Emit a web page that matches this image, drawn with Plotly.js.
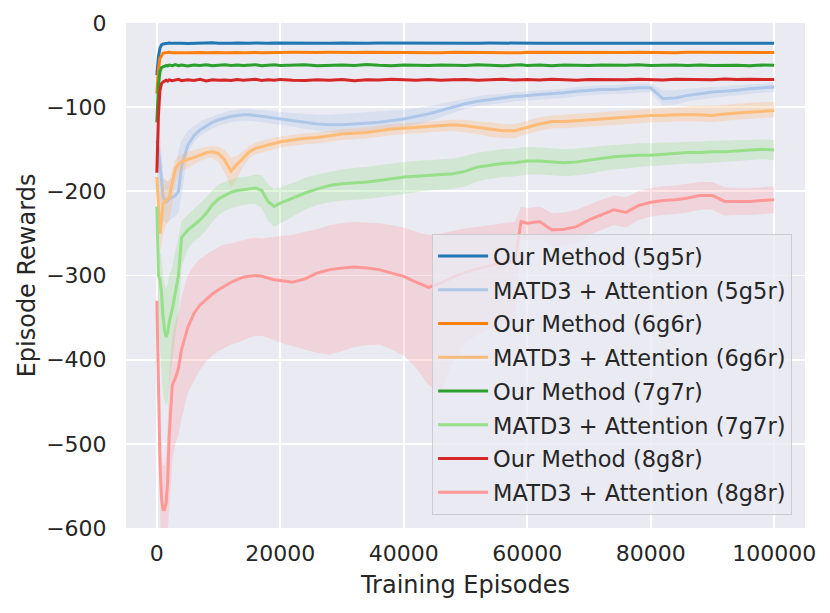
<!DOCTYPE html>
<html>
<head>
<meta charset="utf-8">
<script src="https://cdn.plot.ly/plotly-3.0.1.min.js"></script>
<style>
  html, body { margin: 0; padding: 0; background: #fff; }
  #chart { width: 830px; height: 613px; }
</style>
</head>
<body>
<div id="chart"></div>
<script>
var episodes = [0, 250, 500, 750, 1000, 1250, 1500, 1750, 2000, 2500,
  3000, 3500, 4000, 5000, 6000, 7000, 8000, 9000, 10000, 11000,
  12000, 13000, 14000, 15000, 16000, 17000, 18000, 19000, 20000, 22000,
  24000, 26000, 28000, 30000, 32000, 34000, 36000, 38000, 40000, 42000,
  44000, 46000, 48000, 50000, 52000, 54000, 56000, 58000, 59000, 60000,
  62000, 64000, 66000, 68000, 70000, 72000, 74000, 76000, 78000, 80000,
  82000, 84000, 86000, 88000, 90000, 92000, 94000, 96000, 98000, 100000];

// Our Method
var ours5 = [-62, -40, -30, -26, -25, -24.5, -24, -24.3, -23.8, -24.2,
  -24, -23.7, -24.1, -24.3, -23.9, -24.2, -24, -23.6, -24.1, -24.3,
  -24, -23.8, -24.2, -24, -23.7, -24.1, -24.2, -23.9, -24, -24.3,
  -23.9, -24.1, -24, -23.8, -24.2, -24.1, -23.9, -24, -24.2, -23.8,
  -24, -24.1, -23.9, -24.2, -24, -23.8, -24.1, -24, -24.2, -23.9,
  -24.1, -24, -23.8, -24.2, -24, -24.1, -23.9, -24, -24.2, -23.8,
  -24, -24.1, -23.9, -24, -24.2, -23.9, -24, -24.1, -23.8, -24];
var ours6 = [-84, -55, -42, -38, -36, -35.5, -35, -35.3, -34.8, -35.2,
  -35, -34.7, -35.2, -35.4, -34.9, -35.1, -35.3, -34.8, -35, -35.2,
  -34.9, -35.1, -35.3, -34.8, -35, -35.2, -34.9, -35.1, -35, -34.8,
  -35.2, -35, -34.9, -35.3, -35.1, -34.8, -35, -35.2, -34.9, -35.1,
  -35, -35.3, -34.8, -35, -35.2, -34.9, -35.1, -35, -35.3, -34.9,
  -35, -35.2, -34.8, -35.1, -35, -34.9, -35.2, -35, -34.8, -35.1,
  -35, -35.2, -34.9, -35, -35.1, -34.8, -35, -35.2, -34.9, -35];
var ours7 = [-118, -75, -58, -53, -52, -51, -50.5, -51, -50, -50.8,
  -49.5, -50.6, -50, -51, -49.8, -50.5, -49.6, -50.9, -50.2, -49.7,
  -50.5, -49.8, -50.6, -50, -49.5, -50.8, -50.1, -49.7, -50.4, -50,
  -49.6, -50.7, -50, -49.8, -50.5, -49.4, -50.3, -50.8, -49.9, -50.2,
  -50.6, -49.8, -50.1, -50.5, -49.7, -50.3, -50.9, -50, -49.6, -50.4,
  -50, -50.7, -49.8, -50.2, -50.6, -49.9, -50.3, -50.1, -49.7, -50.5,
  -50.2, -49.8, -50.6, -50, -50.4, -49.9, -50.2, -50.7, -50, -50.3];
var ours8 = [-178, -110, -80, -72, -70, -69, -68, -69, -67.5, -68.5,
  -68, -67, -68.5, -67.5, -68.2, -67, -68.8, -67.4, -68, -67.6,
  -68.4, -67.2, -68, -67.8, -66.9, -68.3, -67.5, -68.1, -67, -67.9,
  -68.2, -67.4, -67.9, -67, -68.5, -67.3, -67.8, -66.8, -67.6, -68.1,
  -67.2, -67.9, -67.4, -67, -68, -67.5, -66.9, -67.8, -67.3, -67.1,
  -67.6, -66.8, -67.4, -67.9, -67, -67.3, -66.7, -67.5, -66.9, -67.2,
  -67.6, -66.8, -67.3, -67, -67.5, -66.6, -67.2, -66.9, -67.4, -67.1];

// MATD3 + Attention, mean and shaded band
var matd5 = [-140, -150, -168, -192, -206, -211, -213, -211, -209, -207,
  -205, -200, -170, -145, -134, -127, -122, -118, -115, -113,
  -111, -110, -109, -109, -110, -111, -112, -113, -114, -116,
  -118, -120, -121, -121, -120, -119, -118, -116, -114, -111,
  -108, -104, -100, -96, -93, -91, -89, -87, -87, -86,
  -85, -84, -83, -81, -80, -79, -79, -78, -77, -77,
  -90, -89, -86, -84, -82, -81, -80, -78, -77, -76];
var matd5Hi = [-100, -110, -130, -160, -180, -185, -188, -188, -186, -184,
  -180, -150, -140, -128, -122, -117, -114, -111, -108, -106,
  -104, -103, -102, -102, -103, -103, -104, -105, -106, -107,
  -108, -109, -109, -108, -107, -106, -105, -104, -103, -101,
  -99, -96, -93, -90, -87, -85, -84, -82, -82, -81,
  -80, -79, -78, -76, -75, -74, -74, -73, -72, -72,
  -80, -80, -78, -77, -76, -75, -74, -73, -72, -71];
var matd5Lo = [-180, -195, -210, -225, -232, -236, -238, -236, -234, -232,
  -230, -225, -205, -155, -142, -134, -129, -125, -122, -120,
  -118, -117, -116, -116, -117, -118, -119, -120, -121, -123,
  -126, -128, -130, -131, -130, -129, -128, -126, -124, -121,
  -117, -112, -107, -102, -99, -97, -95, -93, -93, -92,
  -91, -90, -89, -87, -86, -85, -84, -84, -83, -82,
  -98, -97, -93, -91, -89, -87, -86, -84, -83, -82];

var matd6 = [-183, -220, -250, -235, -215, -212, -210, -209, -207, -190,
  -173, -168, -165, -162, -160, -157, -154, -153, -155, -163,
  -176, -168, -160, -153, -149, -147, -145, -143, -141, -139,
  -137, -136, -134, -132, -131, -130, -128, -126, -125, -124,
  -123, -122, -121, -122, -124, -126, -128, -128, -126, -124,
  -120, -117, -117, -116, -115, -114, -113, -112, -111, -110,
  -110, -109, -109, -109, -110, -108, -107, -106, -105, -104];
var matd6Hi = [-165, -185, -200, -195, -185, -185, -187, -188, -187, -175,
  -162, -158, -156, -153, -151, -149, -147, -146, -147, -151,
  -160, -158, -152, -146, -142, -140, -138, -136, -135, -133,
  -131, -130, -128, -126, -125, -124, -122, -120, -119, -118,
  -117, -116, -115, -115, -117, -118, -120, -120, -118, -116,
  -112, -110, -109, -108, -107, -106, -105, -104, -103, -102,
  -101, -100, -99, -98, -98, -97, -96, -95, -94, -94];
var matd6Lo = [-200, -245, -270, -265, -250, -245, -240, -238, -235, -215,
  -190, -180, -176, -171, -168, -164, -161, -160, -165, -178,
  -196, -185, -170, -160, -156, -154, -152, -150, -148, -146,
  -144, -143, -141, -139, -138, -137, -135, -133, -132, -131,
  -130, -129, -128, -130, -132, -135, -137, -137, -134, -132,
  -128, -125, -125, -124, -123, -122, -121, -120, -119, -118,
  -118, -117, -117, -117, -118, -116, -115, -114, -113, -112];

var matd7 = [-218, -300, -305, -320, -349, -365, -373, -368, -355, -340,
  -320, -300, -255, -246, -240, -234, -226, -216, -209, -205,
  -201, -199, -198, -197, -196, -199, -212, -218, -214, -208,
  -202, -197, -193, -191, -190, -189, -187, -185, -183, -182,
  -181, -180, -179, -176, -171, -169, -167, -166, -165, -164,
  -164, -165, -166, -165, -163, -161, -159, -158, -157, -157,
  -156, -155, -154, -154, -153, -153, -152, -151, -150, -151];
var matd7Hi = [-190, -260, -270, -280, -300, -310, -315, -310, -300, -290,
  -270, -255, -235, -228, -222, -215, -207, -198, -192, -189,
  -186, -184, -183, -182, -180, -181, -192, -197, -195, -190,
  -184, -180, -177, -174, -172, -171, -169, -167, -165, -164,
  -163, -162, -161, -158, -154, -152, -150, -149, -148, -147,
  -148, -149, -150, -149, -148, -146, -145, -144, -143, -143,
  -142, -142, -141, -141, -140, -140, -139, -139, -138, -139];
var matd7Lo = [-250, -360, -380, -410, -440, -450, -455, -450, -430, -400,
  -370, -345, -290, -268, -260, -254, -246, -236, -228, -223,
  -220, -218, -216, -215, -215, -220, -235, -242, -238, -230,
  -222, -216, -213, -211, -210, -209, -207, -205, -203, -201,
  -199, -198, -197, -194, -188, -185, -183, -182, -181, -180,
  -180, -181, -182, -181, -179, -176, -174, -173, -171, -170,
  -169, -168, -167, -167, -166, -165, -164, -163, -162, -163];

var matd8 = [-330, -420, -520, -565, -578, -578, -570, -545, -490, -430,
  -422, -410, -388, -362, -345, -335, -328, -322, -317, -312,
  -308, -305, -302, -301, -300, -301, -303, -305, -306, -308,
  -304, -297, -293, -291, -290, -291, -293, -297, -301, -308,
  -314, -309, -302, -296, -292, -288, -285, -283, -236, -238,
  -236, -246, -245, -242, -234, -228, -222, -225, -217, -213,
  -211, -210, -208, -205, -205, -212, -212, -212, -211, -210];
var matd8Hi = [-300, -370, -460, -510, -525, -525, -515, -480, -420, -370,
  -355, -345, -325, -300, -288, -280, -275, -270, -266, -263,
  -262, -260, -258, -256, -255, -256, -255, -254, -253, -252,
  -248, -245, -240, -238, -236, -237, -238, -240, -243, -248,
  -252, -250, -247, -244, -242, -240, -238, -236, -218, -220,
  -218, -226, -225, -222, -216, -210, -205, -207, -200, -196,
  -194, -193, -191, -189, -189, -195, -196, -196, -195, -194];
var matd8Lo = [-360, -470, -580, -630, -640, -640, -635, -620, -590, -520,
  -500, -490, -470, -440, -425, -412, -402, -395, -390, -386,
  -382, -380, -377, -374, -372, -372, -374, -377, -380, -384,
  -388, -392, -394, -390, -385, -383, -382, -388, -395, -410,
  -430, -440, -400, -380, -370, -363, -358, -355, -256, -258,
  -256, -266, -265, -262, -252, -246, -240, -243, -234, -230,
  -228, -227, -225, -222, -222, -229, -228, -228, -227, -226];

var seriesNames = ['Our Method (5g5r)', 'MATD3 + Attention (5g5r)',
  'Our Method (6g6r)', 'MATD3 + Attention (6g6r)',
  'Our Method (7g7r)', 'MATD3 + Attention (7g7r)',
  'Our Method (8g8r)', 'MATD3 + Attention (8g8r)'];
var seriesColors = ['#1f77b4', '#aec7e8', '#ff7f0e', '#ffbb78',
  '#2ca02c', '#98df8a', '#d62728', '#ff9896'];
var bandColors = ['', 'rgba(174,199,232,0.3)', '', 'rgba(255,187,120,0.3)',
  '', 'rgba(152,223,138,0.3)', '', 'rgba(255,152,150,0.25)'];

var means = [ours5, matd5, ours6, matd6, ours7, matd7, ours8, matd8];
var highs = [null, matd5Hi, null, matd6Hi, null, matd7Hi, null, matd8Hi];
var lows = [null, matd5Lo, null, matd6Lo, null, matd7Lo, null, matd8Lo];

function bandTrace(lo, hi, color, group){
  var back = episodes.slice().reverse();
  return {
    x: episodes.concat(back),
    y: hi.concat(lo.slice().reverse()),
    type: 'scatter',
    mode: 'lines',
    fill: 'toself',
    fillcolor: color,
    line: {width: 0, color: color},
    hoverinfo: 'skip',
    showlegend: false,
    legendgroup: group
  };
}

function lineTrace(values, name, color){
  return {
    x: episodes,
    y: values,
    type: 'scatter',
    mode: 'lines',
    name: name,
    legendgroup: name,
    line: {color: color, width: 3}
  };
}

var traces = [];
for(var i = 0; i < means.length; i++){
  if(highs[i]) traces.push(bandTrace(lows[i], highs[i], bandColors[i], seriesNames[i]));
  traces.push(lineTrace(means[i], seriesNames[i], seriesColors[i]));
}

var textColor = '#262626';

var layout = {
  width: 830,
  height: 613,
  margin: {l: 126, r: 25, t: 23, b: 85},
  paper_bgcolor: '#ffffff',
  plot_bgcolor: '#EAEAF2',
  font: {family: 'DejaVu Sans', size: 22, color: textColor},
  showlegend: true,
  xaxis: {
    range: [-5000, 105000],
    tickvals: [0, 20000, 40000, 60000, 80000, 100000],
    ticktext: ['0', '20000', '40000', '60000', '80000', '100000'],
    ticks: 'outside',
    ticklen: 6,
    tickcolor: 'rgba(0,0,0,0)',
    showgrid: true,
    gridcolor: '#ffffff',
    gridwidth: 1.8,
    zeroline: false,
    showline: false,
    tickfont: {size: 22, color: textColor},
    title: {text: 'Training Episodes', font: {size: 24, color: textColor}, standoff: 10}
  },
  yaxis: {
    range: [-600, 0],
    dtick: 100,
    ticks: 'outside',
    ticklen: 14,
    tickcolor: 'rgba(0,0,0,0)',
    showgrid: true,
    gridcolor: '#ffffff',
    gridwidth: 1.8,
    zeroline: false,
    showline: false,
    tickfont: {size: 22, color: textColor},
    title: {text: 'Episode Rewards', font: {size: 24, color: textColor}, standoff: 3}
  },
  legend: {
    x: 0.981,
    xanchor: 'right',
    y: 0.026,
    yanchor: 'bottom',
    bgcolor: 'rgba(234,234,242,0.8)',
    bordercolor: '#cccccc',
    borderwidth: 1,
    tracegroupgap: 1.5,
    itemwidth: 50,
    font: {size: 22.5, color: textColor}
  }
};

Plotly.newPlot('chart', traces, layout, {displayModeBar: false, staticPlot: true});
</script>
</body>
</html>
